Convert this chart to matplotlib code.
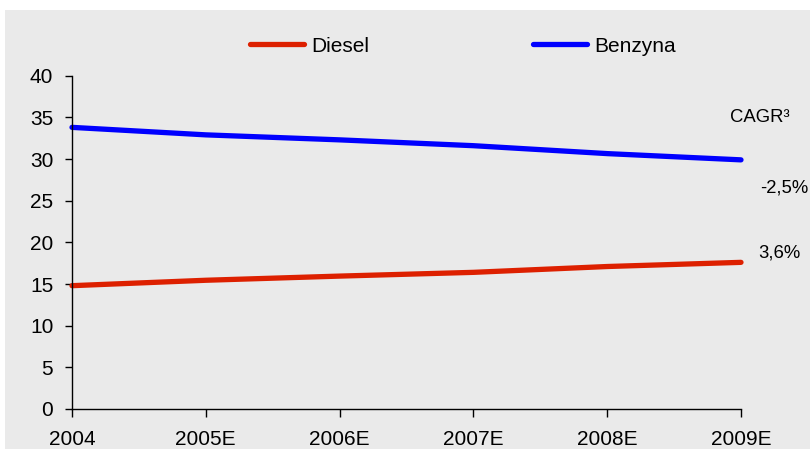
import matplotlib
matplotlib.use("Agg")
import matplotlib.pyplot as plt
from matplotlib.patches import Rectangle

years = ["2004", "2005E", "2006E", "2007E", "2008E", "2009E"]
diesel = [14.8, 15.45, 15.95, 16.4, 17.1, 17.6]
benzyna = [33.8, 32.9, 32.3, 31.6, 30.65, 29.9]
cagr_title = "CAGR³"
cagr_benzyna = "-2,5%"
cagr_diesel = "3,6%"

plt.rcParams["font.family"] = ["Liberation Sans", "DejaVu Sans"]

fig = plt.figure(figsize=(8.10, 4.49), dpi=100)
fig.patch.set_facecolor("white")
bg = Rectangle((5 / 810, 0), 1 - 5 / 810, 1 - 10 / 449,
               transform=fig.transFigure, facecolor="#EAEAEA",
               edgecolor="none", zorder=-10)
fig.patches.append(bg)

ax = fig.add_axes([72 / 810, 1 - 409 / 449, 669 / 810, 333.3 / 449])
ax.set_zorder(2)
ax.set_facecolor("none")
x = range(len(years))
ax.plot(x, diesel, color="#DD2000", lw=3.8, solid_capstyle="round", label="Diesel",
        clip_on=False)
ax.plot(x, benzyna, color="#0000FF", lw=3.8, solid_capstyle="round", label="Benzyna",
        clip_on=False)

ax.set_xlim(0, len(years) - 1)
ax.set_ylim(0, 40)
ax.set_yticks(range(0, 41, 5))
ax.set_xticks(list(x))
ax.set_xticklabels(years)
for s in ("top", "right"):
    ax.spines[s].set_visible(False)
for s in ("left", "bottom"):
    ax.spines[s].set_color("black")
    ax.spines[s].set_linewidth(1.0)
ax.tick_params(axis="both", direction="out", length=5, width=1, colors="black",
               labelsize=15)
ax.tick_params(axis="x", pad=9, length=6)
ax.tick_params(axis="y", pad=8.5)

ann = dict(fontsize=13.3, va="center", ha="left")
fig.text(730 / 810, 1 - 117 / 449, cagr_title, **ann)
fig.text(760 / 810, 1 - 188 / 449, cagr_benzyna, **ann)
fig.text(758 / 810, 1 - 253 / 449, cagr_diesel, **ann)

leg = fig.legend(loc="center left", bbox_to_anchor=(249.5 / 810, 1 - 46 / 449), ncol=2,
                 frameon=False, fontsize=15, handlelength=2.6, handletextpad=0.36,
                 columnspacing=7.85, borderaxespad=0, borderpad=0)
leg.set_zorder(3)

fig.savefig("out.png", dpi=100, facecolor=fig.get_facecolor())
